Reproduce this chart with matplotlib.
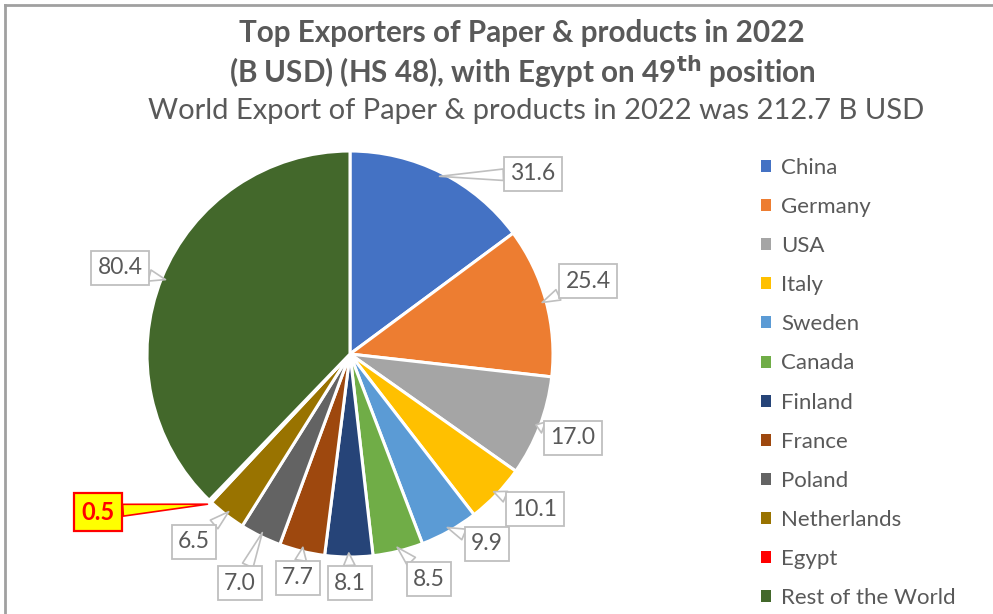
import numpy as np
import matplotlib.pyplot as plt
from matplotlib.lines import Line2D
from matplotlib.patches import Patch

plt.rcParams['font.family'] = ['Lato', 'DejaVu Sans']

countries = ["China", "Germany", "USA", "Italy", "Sweden", "Canada", "Finland",
             "France", "Poland", "Netherlands", "Egypt", "Rest of the World"]
values = [31.6, 25.4, 17.0, 10.1, 9.9, 8.5, 8.1, 7.7, 7.0, 6.5, 0.5, 80.4]
colors = ["#4472C4", "#ED7D31", "#A5A5A5", "#FFC000", "#5B9BD5", "#70AD47",
          "#264478", "#9E480E", "#636363", "#997300", "#FF0000", "#43682B"]

# where the value boxes sit (pixels from top-left)
label_pos = [(533, 174), (588, 281), (573, 438), (535, 509), (487, 544), (429, 579),
             (350, 583), (298, 578), (240, 583), (194, 542), (98, 512), (120, 268)]

W, H = 993, 614
fig = plt.figure(figsize=(W / 100, H / 100), dpi=100)
ax = fig.add_axes([0, 0, 1, 1])

cx, cy, R = 350, H - 354, 203
wedges, _ = ax.pie(values, colors=colors, startangle=90, counterclock=False,
                   center=(cx, cy), radius=R,
                   wedgeprops=dict(edgecolor='white', linewidth=2.2))
ax.set_xlim(0, W)
ax.set_ylim(0, H)
ax.set_aspect('equal')
ax.axis('off')

gray = '#595959'
for i, w in enumerate(wedges):
    ang = np.deg2rad((w.theta1 + w.theta2) / 2)
    tip = (cx + R * 0.98 * np.cos(ang), cy + R * 0.98 * np.sin(ang))
    lx, ly = label_pos[i]
    if countries[i] == "Egypt":
        tip = (cx + R * 1.02 * np.cos(ang), cy + R * 1.02 * np.sin(ang))
        ax.annotate(f"{values[i]:.1f}", xy=tip, xytext=(lx, H - ly),
                    ha='center', va='center', fontsize=17, fontweight='bold', color='#FF0000',
                    bbox=dict(boxstyle='square,pad=0.32', fc='#FFFF00', ec='#FF0000', lw=1.6),
                    arrowprops=dict(arrowstyle='wedge,tail_width=0.5', fc='#FFFF00', ec='#FF0000',
                                    lw=1.2, shrinkA=0, shrinkB=0))
    else:
        ax.annotate(f"{values[i]:.1f}", xy=tip, xytext=(lx, H - ly),
                    ha='center', va='center', fontsize=16.5, color=gray,
                    bbox=dict(boxstyle='square,pad=0.28', fc='white', ec='#BFBFBF', lw=1.3),
                    arrowprops=dict(arrowstyle='wedge,tail_width=0.5', fc='white', ec='#BFBFBF',
                                    lw=1.2, shrinkA=0, shrinkB=0))

# legend
handles = [Patch(facecolor=c, edgecolor='none') for c in colors]
leg = fig.legend(handles, countries, loc='upper left', bbox_to_anchor=(752 / W, 1 - 149 / H),
                 frameon=False, fontsize=16, labelcolor=gray, handlelength=0.45, handleheight=0.45,
                 handletextpad=0.45, labelspacing=0.86, borderaxespad=0, borderpad=0.4)

# titles
fig.text(522 / W, 1 - 33 / H, "Top Exporters of Paper & products in 2022",
         ha='center', va='center', fontsize=21.3, fontweight='bold', color=gray)
fig.text(522 / W, 1 - 72 / H, r"(B USD) (HS 48), with Egypt on 49$^{\mathbf{th}}$ position",
         ha='center', va='center', fontsize=21.3, fontweight='bold', color=gray)
fig.text(536 / W, 1 - 111 / H, "World Export of Paper & products in 2022 was 212.7 B USD",
         ha='center', va='center', fontsize=21, color=gray)

# frame edges
fig.add_artist(Line2D([4.5 / W, 4.5 / W], [0, 1 - 4.5 / H], color='#A0A0A0', lw=2))
fig.add_artist(Line2D([4.5 / W, 1], [1 - 4.5 / H, 1 - 4.5 / H], color='#A0A0A0', lw=2))

fig.savefig("out.png", dpi=100)
